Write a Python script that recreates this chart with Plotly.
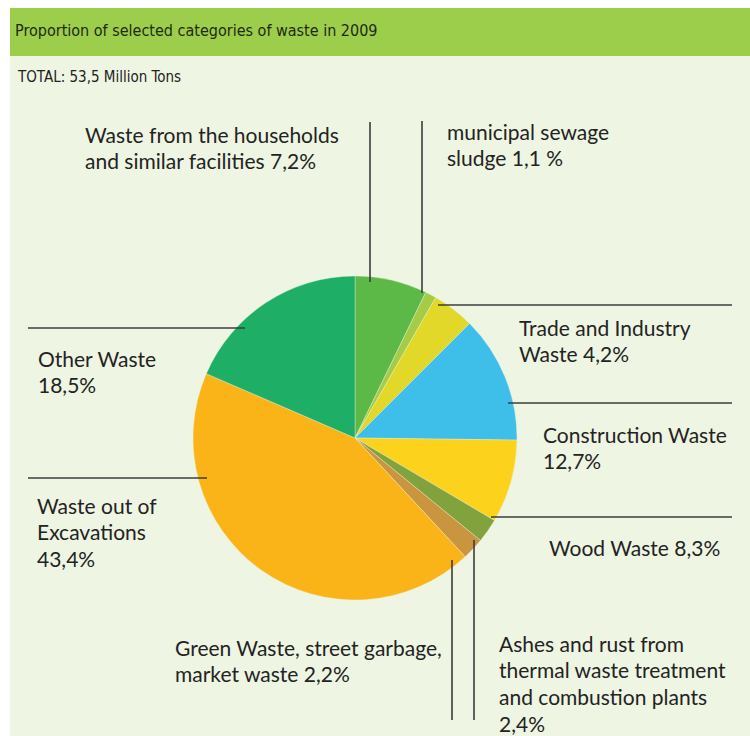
import plotly.graph_objects as go

# ---- data ----
categories = [
    "Waste from the households and similar facilities",
    "municipal sewage sludge",
    "Trade and Industry Waste",
    "Construction Waste",
    "Wood Waste",
    "Ashes and rust from thermal waste treatment and combustion plants",
    "Green Waste, street garbage, market waste",
    "Waste out of Excavations",
    "Other Waste",
]
values = [7.2, 1.1, 4.2, 12.7, 8.3, 2.4, 2.2, 43.4, 18.5]
colors = ["#5cb947", "#a5cc48", "#e2d82a", "#3ebfe9", "#fdd21d",
          "#81a23d", "#c9963f", "#fbb418", "#1fae66"]
# label lines (last line gets the formatted value)
label_lines = [
    ["Waste from the households", "and similar facilities {v}%"],
    ["municipal sewage", "sludge {v} %"],
    ["Trade and Industry", "Waste {v}%"],
    ["Construction Waste", "{v}%"],
    ["Wood Waste {v}%"],
    ["Ashes and rust from", "thermal waste treatment", "and combustion plants", "{v}%"],
    ["Green Waste, street garbage,", "market waste {v}%"],
    ["Waste out of", "Excavations", "{v}%"],
    ["Other Waste", "{v}%"],
]
title_text = "Proportion of selected categories of waste in 2009"
subtitle_text = "TOTAL: 53,5 Million Tons"

# ---- layout positions (pixels) ----
W, H = 750, 736
cx, cy, r = 355, 438, 162
# text left x and first-line center y, per category
text_pos = [(83, 134), (445, 131), (517, 327), (541, 434), (547, 547),
            (497, 643), (173, 647), (35, 505), (36, 358)]
line_gap = 26.9
# leader lines
leaders = [
    (370, 122, 370, 282),
    (422, 121, 422, 293),
    (438, 305, 732, 305),
    (508, 403, 732, 403),
    (491, 517, 732, 517),
    (474, 540, 474, 720),
    (452, 560, 452, 720),
    (28, 478, 207, 478),
    (28, 328, 245, 328),
]

fig = go.Figure()
fig.add_trace(go.Pie(
    labels=categories, values=values, sort=False, direction="clockwise",
    rotation=0, textinfo="none", hoverinfo="label+value",
    marker=dict(colors=colors, line=dict(color="rgba(238,245,226,0.6)", width=0.6)),
    domain=dict(x=[(cx - r) / W, (cx + r) / W], y=[1 - (cy + r) / H, 1 - (cy - r) / H]),
    showlegend=False,
))

shapes = [
    dict(type="rect", xref="x", yref="y", x0=10, x1=W, y0=56, y1=H,
         fillcolor="#eef5e2", line=dict(width=0), layer="below"),
    dict(type="rect", xref="x", yref="y", x0=10, x1=W, y0=8, y1=56,
         fillcolor="#9dce4b", line=dict(width=0), layer="below"),
]
for (x0, y0, x1, y1) in leaders:
    shapes.append(dict(type="line", xref="x", yref="y", x0=x0, y0=y0, x1=x1, y1=y1,
                       line=dict(color="#3c3c3c", width=1.6), layer="above"))

font_body = "Lato, 'Open Sans', sans-serif"
font_cond = "'Liberation Sans Narrow', 'DejaVu Sans Condensed', sans-serif"
annotations = [
    dict(text=title_text, x=13, y=30, xref="x", yref="y", xanchor="left", yanchor="middle",
         showarrow=False, font=dict(family=font_cond, size=16, color="#1e2a10")),
    dict(text=subtitle_text, x=15, y=77, xref="x", yref="y", xanchor="left", yanchor="middle",
         showarrow=False, font=dict(family=font_cond, size=15, color="#222222")),
]
for lines, v, (tx, ty) in zip(label_lines, values, text_pos):
    vs = f"{v:.1f}".replace(".", ",")
    for i, ln in enumerate(lines):
        annotations.append(dict(
            text=ln.format(v=vs), x=tx, y=ty + i * line_gap, xref="x", yref="y",
            xanchor="left", yanchor="middle", showarrow=False,
            font=dict(family=font_body, size=21, color="#232323")))

fig.update_layout(
    width=W, height=H, margin=dict(l=0, r=0, t=0, b=0),
    paper_bgcolor="white", plot_bgcolor="rgba(0,0,0,0)",
    xaxis=dict(range=[0, W], visible=False, fixedrange=True),
    yaxis=dict(range=[H, 0], visible=False, fixedrange=True),
    shapes=shapes, annotations=annotations, showlegend=False,
)
fig.write_html("out.html", config={"displayModeBar": False},
               post_script="document.body.style.margin='0';")
